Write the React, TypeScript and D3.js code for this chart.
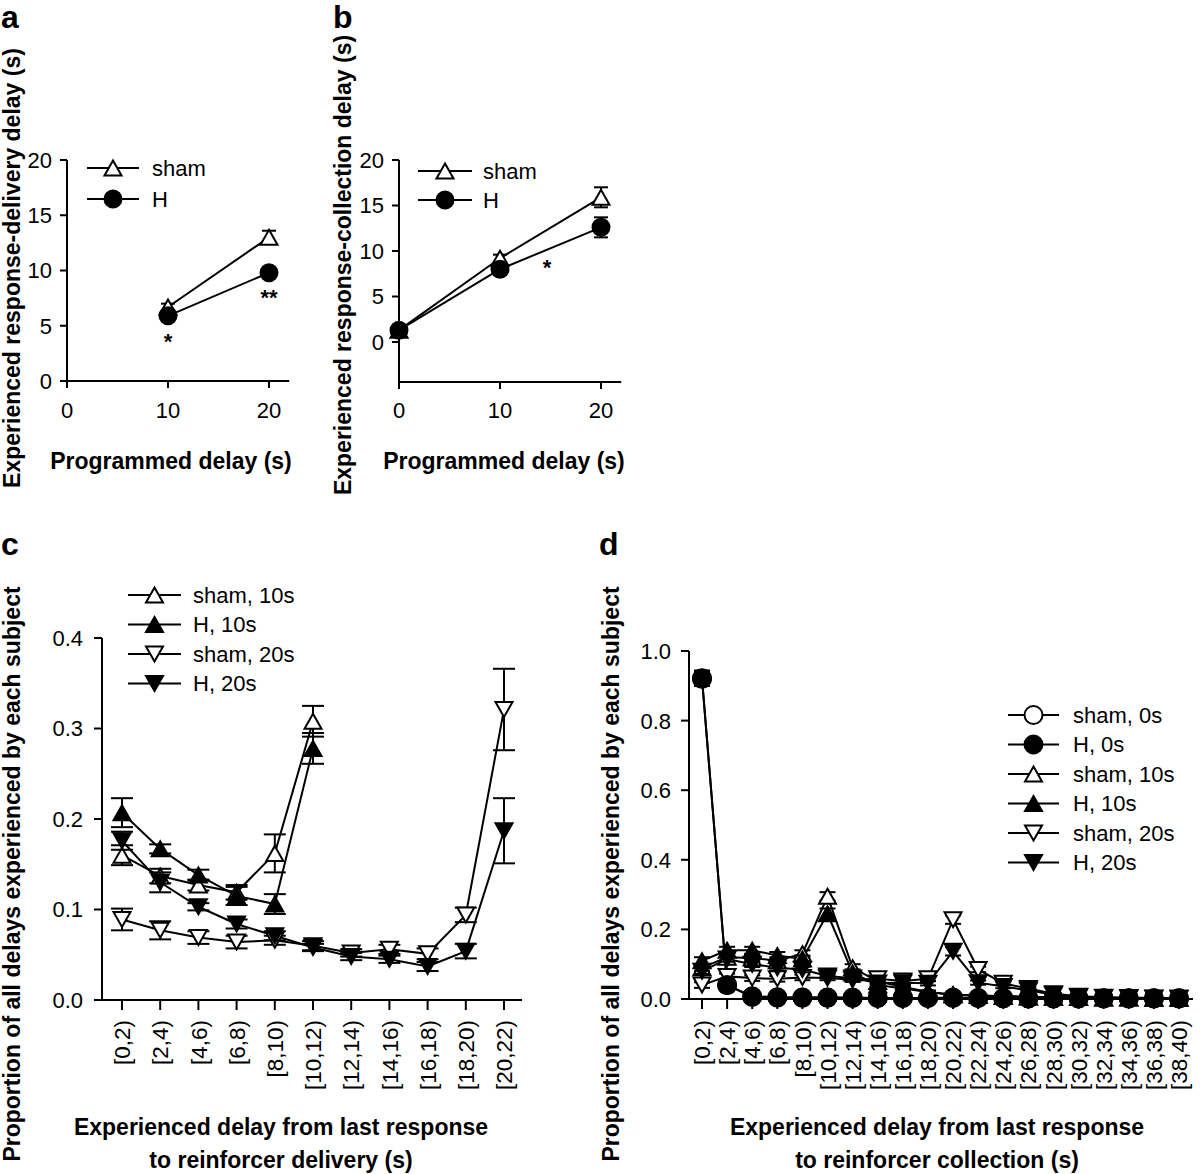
import React, { useEffect, useRef } from "react";
import * as d3 from "d3";

// ---------- DATA ----------
// Panel a
const progA = [10, 20];
const shamA = [6.7, 13.0];
const shamAErr = [0.3, 0.6];
const hA = [5.9, 9.8];
const hAErr = [0.3, 0.3];
const ticksAX = [0, 10, 20];
const ticksAY = [0, 5, 10, 15, 20];

// Panel b
const progB = [0, 10, 20];
const shamB = [1.3, 9.2, 15.9];
const shamBErr = [0.3, 0.4, 1.1];
const hB = [1.3, 8.0, 12.6];
const hBErr = [0.3, 0.4, 1.1];
const ticksBX = [0, 10, 20];
const ticksBY = [0, 5, 10, 15, 20];

// Panel c
const binsC = ["[0,2)", "[2,4)", "[4,6)", "[6,8)", "[8,10)", "[10,12)", "[12,14)", "[14,16)", "[16,18)", "[18,20)", "[20,22)"];
const sham10C = [0.160, 0.137, 0.127, 0.119, 0.162, 0.308];
const sham10CErr = [0.011, 0.008, 0.006, 0.008, 0.021, 0.017];
const h10C = [0.207, 0.167, 0.138, 0.115, 0.106, 0.278];
const h10CErr = [0.016, 0.005, 0.006, 0.01, 0.011, 0.017];
const sham20C = [0.089, 0.077, 0.069, 0.064, 0.066, 0.060, 0.052, 0.056, 0.051, 0.094, 0.321];
const sham20CErr = [0.012, 0.01, 0.007, 0.007, 0.005, 0.005, 0.004, 0.005, 0.006, 0.008, 0.045];
const h20C = [0.176, 0.130, 0.103, 0.084, 0.071, 0.058, 0.048, 0.045, 0.037, 0.054, 0.187];
const h20CErr = [0.01, 0.011, 0.004, 0.005, 0.005, 0.004, 0.004, 0.004, 0.005, 0.008, 0.036];
const ticksCY = [0, 0.1, 0.2, 0.3, 0.4];

// Panel d
const binsD = ["[0,2)", "[2,4)", "[4,6)", "[6,8)", "[8,10)", "[10,12)", "[12,14)", "[14,16)", "[16,18)", "[18,20)", "[20,22)", "[22,24)", "[24,26)", "[26,28)", "[28,30)", "[30,32)", "[32,34)", "[34,36)", "[36,38)", "[38,40)"];
const sham0D = [0.92, 0.04, 0.006, 0.004, 0.004, 0.004, 0.003, 0.003, 0.003, 0.003, 0.003, 0.003, 0.002, 0.002, 0.002, 0.002, 0.002, 0.002, 0.002, 0.002];
const sham0DErr = [0.02, 0.01, 0.003, 0.002, 0.002, 0.002, 0.002, 0.002, 0.002, 0.002, 0.002, 0.002, 0.002, 0.002, 0.002, 0.002, 0.002, 0.002, 0.002, 0.002];
const h0D = [0.922, 0.04, 0.008, 0.005, 0.004, 0.004, 0.004, 0.003, 0.003, 0.003, 0.004, 0.003, 0.003, 0.002, 0.002, 0.002, 0.002, 0.002, 0.002, 0.002];
const h0DErr = [0.022, 0.01, 0.003, 0.002, 0.002, 0.002, 0.002, 0.002, 0.002, 0.002, 0.002, 0.002, 0.002, 0.002, 0.002, 0.002, 0.002, 0.002, 0.002, 0.002];
const sham10D = [0.09, 0.12, 0.118, 0.11, 0.13, 0.295, 0.09, 0.05, 0.035, 0.02, 0.012, 0.01, 0.008, 0.006, 0.005, 0.004, 0.003, 0.003, 0.002, 0.002];
const sham10DErr = [0.01, 0.01, 0.01, 0.01, 0.01, 0.012, 0.01, 0.006, 0.005, 0.004, 0.003, 0.003, 0.002, 0.002, 0.002, 0.002, 0.002, 0.002, 0.002, 0.002];
const h10D = [0.11, 0.14, 0.14, 0.125, 0.115, 0.245, 0.075, 0.04, 0.03, 0.02, 0.012, 0.01, 0.008, 0.006, 0.005, 0.004, 0.003, 0.003, 0.002, 0.002];
const h10DErr = [0.01, 0.01, 0.01, 0.01, 0.01, 0.015, 0.01, 0.006, 0.005, 0.004, 0.003, 0.003, 0.002, 0.002, 0.002, 0.002, 0.002, 0.002, 0.002, 0.002];
const sham20D = [0.04, 0.065, 0.06, 0.058, 0.062, 0.06, 0.055, 0.058, 0.052, 0.058, 0.228, 0.085, 0.045, 0.03, 0.015, 0.008, 0.005, 0.004, 0.003, 0.002];
const sham20DErr = [0.008, 0.008, 0.008, 0.008, 0.008, 0.006, 0.006, 0.006, 0.006, 0.006, 0.012, 0.008, 0.005, 0.004, 0.003, 0.002, 0.002, 0.002, 0.002, 0.002];
const h20D = [0.08, 0.115, 0.1, 0.09, 0.085, 0.066, 0.06, 0.046, 0.047, 0.045, 0.137, 0.047, 0.036, 0.025, 0.012, 0.006, 0.004, 0.003, 0.002, 0.002];
const h20DErr = [0.008, 0.008, 0.008, 0.008, 0.008, 0.006, 0.006, 0.006, 0.006, 0.006, 0.012, 0.006, 0.005, 0.004, 0.003, 0.002, 0.002, 0.002, 0.002, 0.002];
const ticksDY = [0, 0.2, 0.4, 0.6, 0.8, 1.0];

const FONT = "'Liberation Sans', Arial, Helvetica, sans-serif";

type Sym = "circle" | "up" | "down";

function markerPath(sym: Sym, w: number, h: number): string {
  if (sym === "up") return `M0,${-h / 2}L${w / 2},${h / 2}L${-w / 2},${h / 2}Z`;
  return `M0,${h / 2}L${w / 2},${-h / 2}L${-w / 2},${-h / 2}Z`;
}

function drawMarker(g: any, sym: Sym, filled: boolean, x: number, y: number, size: { r: number; w: number; h: number }) {
  const fill = filled ? "#000" : "#fff";
  if (sym === "circle") {
    g.append("circle").attr("cx", x).attr("cy", y).attr("r", size.r)
      .attr("fill", fill).attr("stroke", "#000").attr("stroke-width", 2);
  } else {
    g.append("path").attr("d", markerPath(sym, size.w, size.h))
      .attr("transform", `translate(${x},${y})`)
      .attr("fill", fill).attr("stroke", "#000").attr("stroke-width", 2).attr("stroke-linejoin", "miter");
  }
}

interface SeriesSpec {
  xs: number[];
  ys: number[];
  errs: number[];
  sym: Sym;
  filled: boolean;
}

function drawLines(g: any, s: SeriesSpec, y: any) {
  const line = d3.line<number>().x((_, i) => s.xs[i]).y((v) => y(v));
  g.append("path").attr("d", line(s.ys)).attr("fill", "none").attr("stroke", "#000").attr("stroke-width", 2);
}

function drawErrMarks(g: any, s: SeriesSpec, y: any, cap: number, size: { r: number; w: number; h: number }) {
  s.ys.forEach((v, i) => {
    const e = s.errs[i];
    const x = s.xs[i];
    if (e > 0) {
      g.append("line").attr("x1", x).attr("x2", x).attr("y1", y(v - e)).attr("y2", y(v + e))
        .attr("stroke", "#000").attr("stroke-width", 2);
      [v - e, v + e].forEach((c) => {
        g.append("line").attr("x1", x - cap / 2).attr("x2", x + cap / 2).attr("y1", y(c)).attr("y2", y(c))
          .attr("stroke", "#000").attr("stroke-width", 2);
      });
    }
  });
  s.ys.forEach((v, i) => drawMarker(g, s.sym, s.filled, s.xs[i], y(v), size));
}

function text(g: any, x: number, y: number, str: string, size: number, opts: any = {}) {
  const t = g.append("text").attr("x", x).attr("y", y).text(str)
    .attr("font-family", FONT).attr("font-size", size).attr("fill", "#000");
  if (opts.bold) t.attr("font-weight", "bold");
  if (opts.anchor) t.attr("text-anchor", opts.anchor);
  if (opts.transform) t.attr("transform", opts.transform);
  if (opts.dy) t.attr("dy", opts.dy);
  return t;
}

function legend(g: any, entries: { label: string; sym: Sym; filled: boolean }[], x1: number, x2: number, ys: number[], tx: number, size: { r: number; w: number; h: number }, fs: number) {
  entries.forEach((e, i) => {
    const yy = ys[i];
    g.append("line").attr("x1", x1).attr("x2", x2).attr("y1", yy).attr("y2", yy).attr("stroke", "#000").attr("stroke-width", 2);
    drawMarker(g, e.sym, e.filled, (x1 + x2) / 2, yy, size);
    text(g, tx, yy, e.label, fs, { dy: "0.36em" });
  });
}

export default function App() {
  const ref = useRef<SVGSVGElement>(null);
  useEffect(() => {
    const svg = d3.select(ref.current);
    svg.selectAll("*").remove();
    svg.append("rect").attr("width", 1200).attr("height", 1174).attr("fill", "#fff");
    const g = svg.append("g");
    const TICK_FS = 22;
    const CAT_FS = 22.5;
    const TITLE_FS = 23;
    const LEG_FS = 22;

    // ---------- Panel a ----------
    {
      const x = d3.scaleLinear().domain([0, 20]).range([67, 269]);
      const y = d3.scaleLinear().domain([0, 20]).range([381, 160]);
      const ax = g.append("g");
      ax.append("line").attr("x1", x(0)).attr("x2", x(22)).attr("y1", y(0)).attr("y2", y(0)).attr("stroke", "#000").attr("stroke-width", 2);
      ax.append("line").attr("x1", x(0)).attr("x2", x(0)).attr("y1", y(0)).attr("y2", y(20)).attr("stroke", "#000").attr("stroke-width", 2);
      ticksAY.forEach((t) => {
        ax.append("line").attr("x1", x(0) - 7).attr("x2", x(0)).attr("y1", y(t)).attr("y2", y(t)).attr("stroke", "#000").attr("stroke-width", 2);
        text(ax, x(0) - 15, y(t), String(t), TICK_FS, { anchor: "end", dy: "0.36em" });
      });
      ticksAX.forEach((t) => {
        ax.append("line").attr("x1", x(t)).attr("x2", x(t)).attr("y1", y(0)).attr("y2", y(0) + 7).attr("stroke", "#000").attr("stroke-width", 2);
        text(ax, x(t), 418, String(t), TICK_FS, { anchor: "middle" });
      });
      const size = { r: 8.5, w: 17, h: 15 };
      const s1: SeriesSpec = { xs: progA.map(x), ys: shamA, errs: shamAErr, sym: "up", filled: false };
      const s2: SeriesSpec = { xs: progA.map(x), ys: hA, errs: hAErr, sym: "circle", filled: true };
      drawLines(g, s1, y); drawLines(g, s2, y);
      drawErrMarks(g, s1, y, 14, size); drawErrMarks(g, s2, y, 14, size);
      text(g, x(10), 349, "*", 22, { anchor: "middle", bold: true });
      text(g, x(20), 305, "**", 22, { anchor: "middle", bold: true });
      legend(g, [{ label: "sham", sym: "up", filled: false }, { label: "H", sym: "circle", filled: true }], 87, 139, [168, 199], 152, size, LEG_FS);
      text(g, 171, 469, "Programmed delay (s)", TITLE_FS, { anchor: "middle", bold: true });
      text(g, 0, 0, "Experienced response-delivery delay (s)", TITLE_FS, { anchor: "middle", bold: true, transform: "translate(20,268) rotate(-90)" });
      text(g, 1, 28, "a", 32, { bold: true });
    }

    // ---------- Panel b ----------
    {
      const x = d3.scaleLinear().domain([0, 20]).range([399, 601]);
      const y = d3.scaleLinear().domain([0, 20]).range([342, 160]);
      const ax = g.append("g");
      ax.append("line").attr("x1", x(0)).attr("x2", x(22)).attr("y1", y(-4.4)).attr("y2", y(-4.4)).attr("stroke", "#000").attr("stroke-width", 2);
      ax.append("line").attr("x1", x(0)).attr("x2", x(0)).attr("y1", y(-4.4)).attr("y2", y(20)).attr("stroke", "#000").attr("stroke-width", 2);
      ticksBY.forEach((t) => {
        ax.append("line").attr("x1", x(0) - 7).attr("x2", x(0)).attr("y1", y(t)).attr("y2", y(t)).attr("stroke", "#000").attr("stroke-width", 2);
        text(ax, x(0) - 15, y(t), String(t), TICK_FS, { anchor: "end", dy: "0.36em" });
      });
      ticksBX.forEach((t) => {
        ax.append("line").attr("x1", x(t)).attr("x2", x(t)).attr("y1", y(-4.4)).attr("y2", y(-4.4) + 7).attr("stroke", "#000").attr("stroke-width", 2);
        text(ax, x(t), 418, String(t), TICK_FS, { anchor: "middle" });
      });
      const size = { r: 8.5, w: 17, h: 15 };
      const s1: SeriesSpec = { xs: progB.map(x), ys: shamB, errs: shamBErr, sym: "up", filled: false };
      const s2: SeriesSpec = { xs: progB.map(x), ys: hB, errs: hBErr, sym: "circle", filled: true };
      drawLines(g, s1, y); drawLines(g, s2, y);
      drawErrMarks(g, s1, y, 14, size); drawErrMarks(g, s2, y, 14, size);
      text(g, 547, 275, "*", 22, { anchor: "middle", bold: true });
      legend(g, [{ label: "sham", sym: "up", filled: false }, { label: "H", sym: "circle", filled: true }], 418, 472, [171, 200], 483, size, LEG_FS);
      text(g, 504, 469, "Programmed delay (s)", TITLE_FS, { anchor: "middle", bold: true });
      text(g, 0, 0, "Experienced response-collection delay (s)", TITLE_FS, { anchor: "middle", bold: true, transform: "translate(351,265) rotate(-90)" });
      text(g, 333, 28, "b", 32, { bold: true });
    }

    // ---------- Panel c ----------
    {
      const x = d3.scalePoint<string>().domain(binsC).range([122, 504]);
      const y = d3.scaleLinear().domain([0, 0.4]).range([1000, 638]);
      const ax = g.append("g");
      const x0 = 102;
      ax.append("line").attr("x1", x0).attr("x2", 522).attr("y1", y(0)).attr("y2", y(0)).attr("stroke", "#000").attr("stroke-width", 2);
      ax.append("line").attr("x1", x0).attr("x2", x0).attr("y1", y(0)).attr("y2", y(0.4)).attr("stroke", "#000").attr("stroke-width", 2);
      ticksCY.forEach((t) => {
        ax.append("line").attr("x1", x0 - 8).attr("x2", x0).attr("y1", y(t)).attr("y2", y(t)).attr("stroke", "#000").attr("stroke-width", 2);
        text(ax, x0 - 19, y(t), d3.format(".1f")(t), TICK_FS, { anchor: "end", dy: "0.36em" });
      });
      binsC.forEach((b) => {
        const xx = x(b)!;
        ax.append("line").attr("x1", xx).attr("x2", xx).attr("y1", y(0)).attr("y2", y(0) + 10).attr("stroke", "#000").attr("stroke-width", 2);
        text(ax, 0, 0, b, CAT_FS, { anchor: "end", dy: "0.36em", transform: `translate(${xx},1020) rotate(-90)` });
      });
      const size = { r: 8.5, w: 17, h: 15 };
      const series: SeriesSpec[] = [
        { xs: binsC.slice(0, sham10C.length).map((b) => x(b)!), ys: sham10C, errs: sham10CErr, sym: "up", filled: false },
        { xs: binsC.slice(0, h10C.length).map((b) => x(b)!), ys: h10C, errs: h10CErr, sym: "up", filled: true },
        { xs: binsC.map((b) => x(b)!), ys: sham20C, errs: sham20CErr, sym: "down", filled: false },
        { xs: binsC.map((b) => x(b)!), ys: h20C, errs: h20CErr, sym: "down", filled: true },
      ];
      series.forEach((s) => drawLines(g, s, y));
      series.forEach((s) => drawErrMarks(g, s, y, 22, size));
      legend(g, [
        { label: "sham, 10s", sym: "up", filled: false },
        { label: "H, 10s", sym: "up", filled: true },
        { label: "sham, 20s", sym: "down", filled: false },
        { label: "H, 20s", sym: "down", filled: true },
      ], 128, 181, [595, 624.5, 654, 683.5], 193, size, LEG_FS);
      text(g, 281, 1135, "Experienced delay from last response", TITLE_FS, { anchor: "middle", bold: true });
      text(g, 281, 1168, "to reinforcer delivery (s)", TITLE_FS, { anchor: "middle", bold: true });
      text(g, 0, 0, "Proportion of all delays experienced by each subject", TITLE_FS, { anchor: "middle", bold: true, transform: "translate(20,874) rotate(-90)" });
      text(g, 1, 555, "c", 32, { bold: true });
    }

    // ---------- Panel d ----------
    {
      const x = d3.scalePoint<string>().domain(binsD).range([702, 1179]);
      const y = d3.scaleLinear().domain([0, 1]).range([999, 651]);
      const ax = g.append("g");
      const x0 = 689;
      ax.append("line").attr("x1", x0).attr("x2", 1193).attr("y1", y(0)).attr("y2", y(0)).attr("stroke", "#000").attr("stroke-width", 2);
      ax.append("line").attr("x1", x0).attr("x2", x0).attr("y1", y(0)).attr("y2", y(1)).attr("stroke", "#000").attr("stroke-width", 2);
      ticksDY.forEach((t) => {
        ax.append("line").attr("x1", x0 - 8).attr("x2", x0).attr("y1", y(t)).attr("y2", y(t)).attr("stroke", "#000").attr("stroke-width", 2);
        text(ax, x0 - 18, y(t), d3.format(".1f")(t), TICK_FS, { anchor: "end", dy: "0.36em" });
      });
      binsD.forEach((b) => {
        const xx = x(b)!;
        ax.append("line").attr("x1", xx).attr("x2", xx).attr("y1", y(0)).attr("y2", y(0) + 10).attr("stroke", "#000").attr("stroke-width", 2);
        text(ax, 0, 0, b, CAT_FS, { anchor: "end", dy: "0.36em", transform: `translate(${xx},1020) rotate(-90)` });
      });
      const size = { r: 9, w: 17, h: 15 };
      const xs = binsD.map((b) => x(b)!);
      const series: SeriesSpec[] = [
        { xs, ys: sham0D, errs: sham0DErr, sym: "circle", filled: false },
        { xs, ys: sham10D, errs: sham10DErr, sym: "up", filled: false },
        { xs, ys: sham20D, errs: sham20DErr, sym: "down", filled: false },
        { xs, ys: h0D, errs: h0DErr, sym: "circle", filled: true },
        { xs, ys: h10D, errs: h10DErr, sym: "up", filled: true },
        { xs, ys: h20D, errs: h20DErr, sym: "down", filled: true },
      ];
      series.forEach((s) => drawLines(g, s, y));
      series.forEach((s) => drawErrMarks(g, s, y, 16, size));
      legend(g, [
        { label: "sham, 0s", sym: "circle", filled: false },
        { label: "H, 0s", sym: "circle", filled: true },
        { label: "sham, 10s", sym: "up", filled: false },
        { label: "H, 10s", sym: "up", filled: true },
        { label: "sham, 20s", sym: "down", filled: false },
        { label: "H, 20s", sym: "down", filled: true },
      ], 1008, 1059, [715, 744.5, 774, 803.5, 833, 862.5], 1073, size, LEG_FS);
      text(g, 937, 1135, "Experienced delay from last response", TITLE_FS, { anchor: "middle", bold: true });
      text(g, 937, 1168, "to reinforcer collection (s)", TITLE_FS, { anchor: "middle", bold: true });
      text(g, 0, 0, "Proportion of all delays experienced by each subject", TITLE_FS, { anchor: "middle", bold: true, transform: "translate(619,874) rotate(-90)" });
      text(g, 599, 555, "d", 32, { bold: true });
    }
  }, []);
  return (
    <svg ref={ref} width={1200} height={1174} style={{ position: "absolute", left: 0, top: 0 }} />
  );
}
